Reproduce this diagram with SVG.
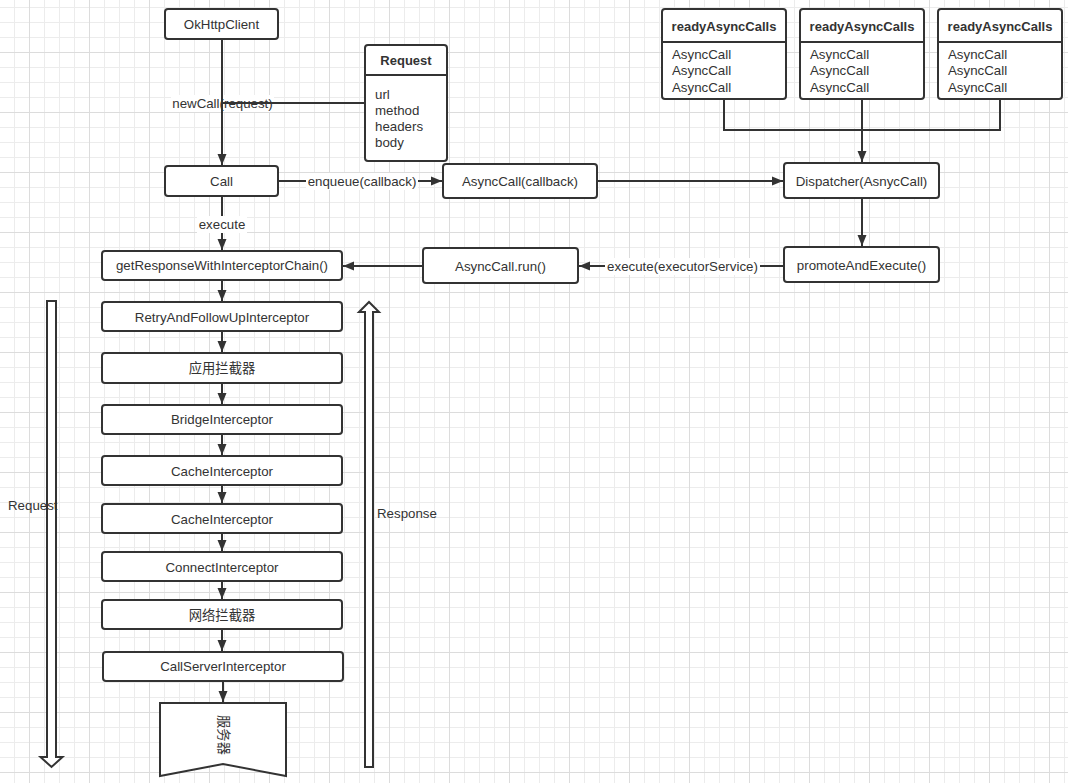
<svg xmlns="http://www.w3.org/2000/svg" width="1068" height="783" viewBox="0 0 1068 783">
<style>
text{font-family:"Liberation Sans",Arial,sans-serif;font-size:13.3px;fill:#333}
.c{text-anchor:middle;dominant-baseline:central}
.b{font-weight:bold;font-size:13px}
.box{fill:#fff;stroke:#333;stroke-width:2}
.ln{fill:none;stroke:#333;stroke-width:2}
.lbl{fill:#fff}
.cjk{font-family:"Liberation Sans","Noto Sans CJK SC",sans-serif}
</style>
<defs>
<pattern id="grid" x="29" y="-8" width="60" height="60" patternUnits="userSpaceOnUse">
<rect x="0" y="0" width="60" height="60" fill="#fff"/>
<rect x="15" y="0" width="1" height="60" fill="#ececec"/>
<rect x="30" y="0" width="1" height="60" fill="#ececec"/>
<rect x="45" y="0" width="1" height="60" fill="#ececec"/>
<rect x="0" y="15" width="60" height="1" fill="#ececec"/>
<rect x="0" y="30" width="60" height="1" fill="#ececec"/>
<rect x="0" y="45" width="60" height="1" fill="#ececec"/>
<rect x="0" y="0" width="1" height="60" fill="#dcdcdc"/>
<rect x="0" y="0" width="60" height="1" fill="#dcdcdc"/>
</pattern>
<marker id="ar" markerUnits="userSpaceOnUse" markerWidth="12" markerHeight="10" refX="11" refY="5" orient="auto">
<path d="M0,0.5 L11,5 L0,9.5 z" fill="#333"/>
</marker>
</defs>
<rect width="1068" height="783" fill="url(#grid)"/>

<g id="connectors">
<line class="ln" x1="222" y1="39" x2="222" y2="165" marker-end="url(#ar)"/>
<rect class="lbl" x="171" y="95" width="103" height="17"/>
<text class="c" x="222.5" y="103">newCall(request)</text>
<line class="ln" x1="222" y1="103" x2="365" y2="103"/>
<line class="ln" x1="222" y1="95" x2="222" y2="112"/>
<line class="ln" x1="278" y1="181" x2="442" y2="181" marker-end="url(#ar)"/>
<rect class="lbl" x="306" y="173" width="112" height="17"/>
<text class="c" x="362" y="181">enqueue(callback)</text>
<line class="ln" x1="597" y1="181" x2="783" y2="181" marker-end="url(#ar)"/>
<polyline class="ln" points="724,99 724,130 1000,130 1000,99"/>
<line class="ln" x1="862" y1="99" x2="862" y2="162" marker-end="url(#ar)"/>
<line class="ln" x1="862" y1="198" x2="862" y2="246" marker-end="url(#ar)"/>
<line class="ln" x1="784" y1="266" x2="579" y2="266" marker-end="url(#ar)"/>
<rect class="lbl" x="605" y="258" width="155" height="17"/>
<text class="c" x="682.5" y="266">execute(executorService)</text>
<line class="ln" x1="423" y1="266" x2="343" y2="266" marker-end="url(#ar)"/>
<line class="ln" x1="222" y1="196" x2="222" y2="250" marker-end="url(#ar)"/>
<rect class="lbl" x="197" y="216" width="50" height="17"/>
<text class="c" x="222" y="224">execute</text>
<line class="ln" x1="222" y1="280" x2="222" y2="301" marker-end="url(#ar)"/>
<line class="ln" x1="222" y1="331" x2="222" y2="352" marker-end="url(#ar)"/>
<line class="ln" x1="222" y1="383" x2="222" y2="404" marker-end="url(#ar)"/>
<line class="ln" x1="222" y1="434" x2="222" y2="455" marker-end="url(#ar)"/>
<line class="ln" x1="222" y1="485" x2="222" y2="503" marker-end="url(#ar)"/>
<line class="ln" x1="222" y1="533" x2="222" y2="551" marker-end="url(#ar)"/>
<line class="ln" x1="222" y1="581" x2="222" y2="599" marker-end="url(#ar)"/>
<line class="ln" x1="222" y1="629" x2="222" y2="651" marker-end="url(#ar)"/>
<line class="ln" x1="223" y1="681" x2="223" y2="702" marker-end="url(#ar)"/>
</g>

<g id="okhttpclient"><rect class="box" x="165" y="9" width="113" height="30" rx="3"/><text class="c" x="221.5" y="24">OkHttpClient</text></g>
<g id="request">
<rect class="box" x="365" y="45" width="82" height="116" rx="3"/>
<line class="ln" x1="365" y1="75" x2="447" y2="75"/>
<text class="c b" x="406" y="60">Request</text>
<text x="375" y="99">url</text>
<text x="375" y="115">method</text>
<text x="375" y="131">headers</text>
<text x="375" y="147">body</text>
</g>
<g id="call"><rect class="box" x="165" y="166" width="113" height="30" rx="3"/><text class="c" x="221.5" y="181">Call</text></g>
<g id="asynccall-callback"><rect class="box" x="443" y="164" width="154" height="34" rx="3"/><text class="c" x="520" y="181">AsyncCall(callback)</text></g>
<g id="dispatcher"><rect class="box" x="784" y="163" width="155" height="35" rx="3"/><text class="c" x="861.5" y="181">Dispatcher(AsnycCall)</text></g>
<g id="promote"><rect class="box" x="784" y="247" width="155" height="35" rx="3"/><text class="c" x="861.5" y="265">promoteAndExecute()</text></g>
<g id="asynccall-run"><rect class="box" x="423" y="248" width="155" height="35" rx="3"/><text class="c" x="500.5" y="266">AsyncCall.run()</text></g>

<g id="ready1">
<rect class="box" x="662" y="9" width="124" height="90" rx="3"/>
<line class="ln" x1="662" y1="42" x2="786" y2="42"/>
<text class="c b" x="724" y="26">readyAsyncCalls</text>
<text x="672" y="59">AsyncCall</text><text x="672" y="75">AsyncCall</text><text x="672" y="92">AsyncCall</text>
</g>
<g id="ready2">
<rect class="box" x="800" y="9" width="124" height="90" rx="3"/>
<line class="ln" x1="800" y1="42" x2="924" y2="42"/>
<text class="c b" x="862" y="26">readyAsyncCalls</text>
<text x="810" y="59">AsyncCall</text><text x="810" y="75">AsyncCall</text><text x="810" y="92">AsyncCall</text>
</g>
<g id="ready3">
<rect class="box" x="938" y="9" width="124" height="90" rx="3"/>
<line class="ln" x1="938" y1="42" x2="1062" y2="42"/>
<text class="c b" x="1000" y="26">readyAsyncCalls</text>
<text x="948" y="59">AsyncCall</text><text x="948" y="75">AsyncCall</text><text x="948" y="92">AsyncCall</text>
</g>

<g id="getresponse"><rect class="box" x="102" y="251" width="240" height="29" rx="3"/><text class="c" x="222" y="265.5">getResponseWithInterceptorChain()</text></g>
<g id="retry"><rect class="box" x="102" y="302" width="240" height="29" rx="3"/><text class="c" x="222" y="317">RetryAndFollowUpInterceptor</text></g>
<g id="app-interceptor"><rect class="box" x="102" y="353" width="240" height="30" rx="3"/><text class="c cjk" x="222" y="368">应用拦截器</text></g>
<g id="bridge"><rect class="box" x="102" y="405" width="240" height="29" rx="3"/><text class="c" x="222" y="419.5">BridgeInterceptor</text></g>
<g id="cache1"><rect class="box" x="102" y="456" width="240" height="29" rx="3"/><text class="c" x="222" y="471">CacheInterceptor</text></g>
<g id="cache2"><rect class="box" x="102" y="504" width="240" height="29" rx="3"/><text class="c" x="222" y="519">CacheInterceptor</text></g>
<g id="connect"><rect class="box" x="102" y="552" width="240" height="29" rx="3"/><text class="c" x="222" y="567">ConnectInterceptor</text></g>
<g id="net-interceptor"><rect class="box" x="102" y="600" width="240" height="29" rx="3"/><text class="c cjk" x="222" y="615">网络拦截器</text></g>
<g id="callserver"><rect class="box" x="103" y="652" width="240" height="29" rx="3"/><text class="c" x="223" y="666.5">CallServerInterceptor</text></g>
<g id="server">
<path class="box" d="M160,703 L286,703 L286,776 L223,764 L160,776 Z"/>
<text class="c cjk" transform="translate(223,735) rotate(90)" x="0" y="0">服务器</text>
</g>

<g id="request-arrow">
<path d="M47,301 L56,301 L56,757 L62.5,757 L51.5,767 L40.5,757 L47,757 Z" fill="#fff" stroke="#333" stroke-width="2"/>
<text x="8" y="510">Request</text>
</g>
<g id="response-arrow">
<path d="M365,767 L373,767 L373,312 L379,312 L369,302 L359,312 L365,312 Z" fill="#fff" stroke="#333" stroke-width="2"/>
<text x="377" y="518">Response</text>
</g>
</svg>
